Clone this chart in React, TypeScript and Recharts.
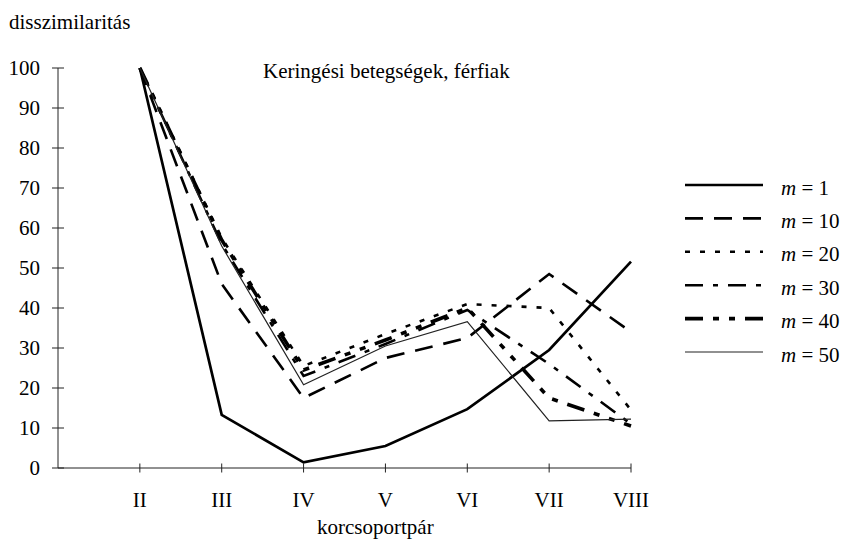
import React from 'react';
import { LineChart, Line, XAxis, YAxis, Customized } from 'recharts';

const categories = ['II', 'III', 'IV', 'V', 'VI', 'VII', 'VIII'];
const yTicks = [0, 10, 20, 30, 40, 50, 60, 70, 80, 90, 100];
const m1 = [100, 13.3, 1.4, 5.5, 14.7, 29.5, 51.6];
const m10 = [100, 46, 17.5, 27.5, 32.5, 48.5, 34];
const m20 = [100, 57.5, 25.5, 33.5, 41, 40, 14.5];
const m30 = [100, 56, 23, 31, 39.5, 26, 11];
const m40 = [100, 57, 24.5, 32, 40, 17.5, 10.5];
const m50 = [100, 55.5, 20.8, 30.5, 36.6, 11.8, 12.2];
const seriesLabels = ['1', '10', '20', '30', '40', '50'];

const data = categories.map((c, i) => ({
  x: i + 2,
  cat: c,
  m1: m1[i],
  m10: m10[i],
  m20: m20[i],
  m30: m30[i],
  m40: m40[i],
  m50: m50[i],
}));

const FONT = '"Liberation Serif", "Times New Roman", serif';

const styles = [
  { key: 'm1', dash: undefined, width: 2.7, color: '#000' },
  { key: 'm10', dash: '18 11', width: 2.6, color: '#000' },
  { key: 'm20', dash: '5 10', width: 2.6, color: '#000' },
  { key: 'm30', dash: '18 10 5 10', width: 2.6, color: '#000' },
  { key: 'm40', dash: '18 10 6 10 6 10', width: 3.6, color: '#000' },
  { key: 'm50', dash: undefined, width: 1.2, color: '#222' },
];

const Overlay = () => (
  <g fontFamily={FONT} fontSize={21} fill="#000">
    <text x={9} y={29}>disszimilaritás</text>
    <text x={263} y={78}>Keringési betegségek, férfiak</text>
    <text x={317} y={534}>korcsoportpár</text>
    {styles.map((s, i) => {
      const y = 185 + i * 33.4;
      return (
        <g key={s.key}>
          <line x1={685} x2={763} y1={y} y2={y} stroke={s.color} strokeWidth={s.width} strokeDasharray={s.dash} />
          <text x={781} y={y + 9.5}>
            <tspan fontStyle="italic">m</tspan> = {seriesLabels[i]}
          </text>
        </g>
      );
    })}
  </g>
);

export default function App() {
  return (
    <div style={{ position: 'absolute', left: 0, top: 0, width: 843, height: 539, background: '#fff' }}>
      <LineChart width={843} height={539} data={data} margin={{ top: 68, right: 212, bottom: 30, left: 0 }}>
        <XAxis
          dataKey="x"
          type="number"
          domain={[1, 8]}
          ticks={[2, 3, 4, 5, 6, 7, 8]}
          tickFormatter={(v: number) => categories[v - 2]}
          height={41}
          axisLine={{ stroke: '#222', strokeWidth: 1 }}
          tickLine={{ stroke: '#222', strokeWidth: 1, transform: 'translate(0,-4.5)' }}
          tickSize={9}
          tickMargin={15}
          tick={{ fill: '#000', fontFamily: FONT, fontSize: 21 }}
          allowDecimals={false}
        />
        <YAxis
          type="number"
          domain={[0, 100]}
          ticks={yTicks}
          width={58}
          axisLine={{ stroke: '#222', strokeWidth: 1 }}
          tickLine={{ stroke: '#222', strokeWidth: 1, transform: 'translate(6,0)' }}
          tickSize={12}
          tickMargin={6}
          tick={{ fill: '#000', fontFamily: FONT, fontSize: 21 }}
        />
        {styles.map((s) => (
          <Line
            key={s.key}
            type="linear"
            dataKey={s.key}
            stroke={s.color}
            strokeWidth={s.width}
            strokeDasharray={s.dash}
            dot={false}
            activeDot={false}
            isAnimationActive={false}
          />
        ))}
        <Customized component={Overlay} />
      </LineChart>
    </div>
  );
}
